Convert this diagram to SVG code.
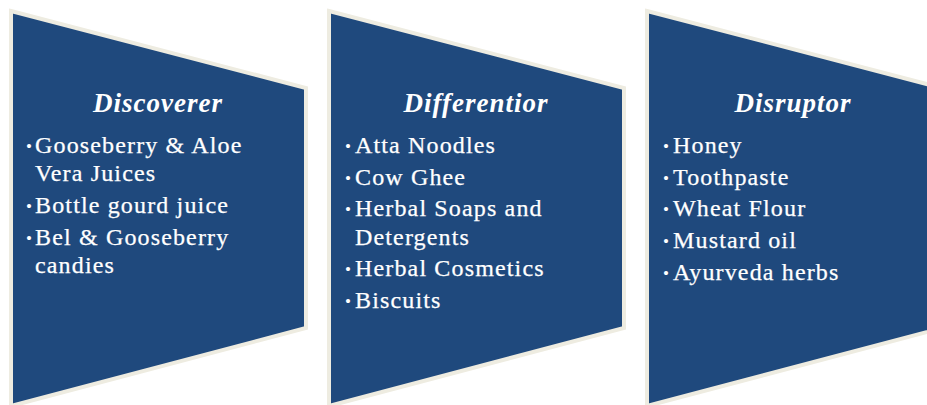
<svg xmlns="http://www.w3.org/2000/svg" width="927" height="405" viewBox="0 0 927 405">
  <style>
    .shape { fill: #1F497D; stroke: #EEECE1; stroke-width: 4; stroke-linejoin: miter; }
    .title { font-family: "Liberation Serif", "Times New Roman", serif; font-weight: bold; font-style: italic; font-size: 27px; letter-spacing: 1px; fill: #FFFFFF; text-anchor: middle; }
    .item { font-family: "Liberation Serif", "Times New Roman", serif; font-size: 24px; letter-spacing: 1.15px; fill: #FFFFFF; stroke: #FFFFFF; stroke-width: 0.25px; }
    .dot { font-family: "Liberation Serif", "Times New Roman", serif; font-size: 17px; fill: #FFFFFF; }
  </style>
  <rect width="927" height="405" fill="#FFFFFF"/>

  <!-- Stage 1 -->
  <g id="discoverer">
    <path class="shape" d="M11,11 L306,88 L306,328 L11,406 Z"/>
    <text class="title" x="158" y="112">Discoverer</text>
    <text class="dot" x="26" y="152">•</text>
    <text class="item" x="35" y="153">Gooseberry &amp; Aloe</text>
    <text class="item" x="35" y="181">Vera Juices</text>
    <text class="dot" x="26" y="212">•</text>
    <text class="item" x="35" y="213">Bottle gourd juice</text>
    <text class="dot" x="26" y="244">•</text>
    <text class="item" x="35" y="245">Bel &amp; Gooseberry</text>
    <text class="item" x="35" y="273">candies</text>
  </g>

  <!-- Stage 2 -->
  <g id="differentior">
    <path class="shape" d="M329,11 L624,88 L624,328 L329,406 Z"/>
    <text class="title" x="476" y="112">Differentior</text>
    <text class="dot" x="345" y="152">•</text>
    <text class="item" x="355" y="153">Atta Noodles</text>
    <text class="dot" x="345" y="184">•</text>
    <text class="item" x="355" y="185">Cow Ghee</text>
    <text class="dot" x="345" y="215">•</text>
    <text class="item" x="355" y="216">Herbal Soaps and</text>
    <text class="item" x="355" y="245">Detergents</text>
    <text class="dot" x="345" y="275">•</text>
    <text class="item" x="355" y="276">Herbal Cosmetics</text>
    <text class="dot" x="345" y="307">•</text>
    <text class="item" x="355" y="308">Biscuits</text>
  </g>

  <!-- Stage 3 -->
  <g id="disruptor">
    <path class="shape" d="M647,11 L942,88 L942,328 L647,406 Z"/>
    <text class="title" x="793" y="112">Disruptor</text>
    <text class="dot" x="663" y="152">•</text>
    <text class="item" x="673" y="153">Honey</text>
    <text class="dot" x="663" y="184">•</text>
    <text class="item" x="673" y="185">Toothpaste</text>
    <text class="dot" x="663" y="215">•</text>
    <text class="item" x="673" y="216">Wheat Flour</text>
    <text class="dot" x="663" y="247">•</text>
    <text class="item" x="673" y="248">Mustard oil</text>
    <text class="dot" x="663" y="279">•</text>
    <text class="item" x="673" y="280">Ayurveda herbs</text>
  </g>

  <g id="connectors"></g>
</svg>
